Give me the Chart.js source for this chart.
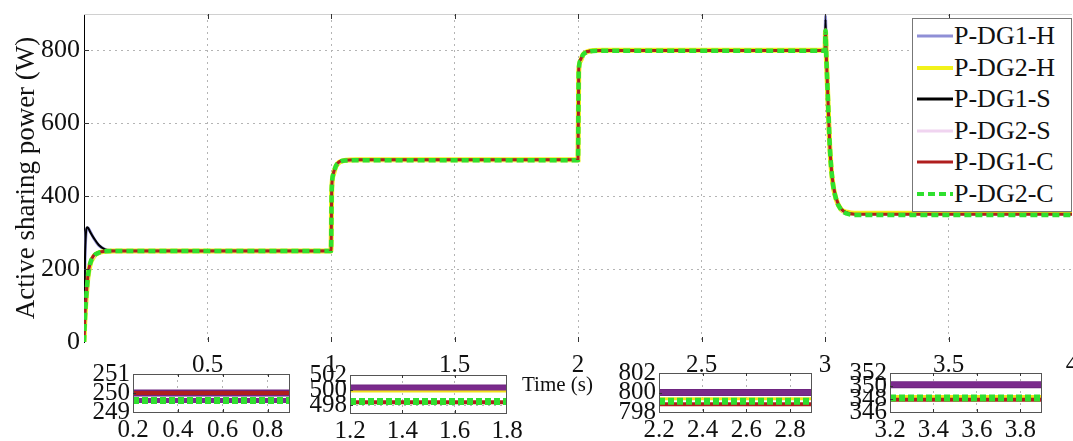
<!DOCTYPE html>
<html>
<head>
<meta charset="utf-8">
<script src="https://cdn.jsdelivr.net/npm/chart.js@4.4.1/dist/chart.umd.min.js"></script>
<style>
  body { margin: 0; background: #fff; width: 1073px; height: 441px; position: relative; overflow: hidden;
         font-family: "Liberation Serif", "Times New Roman", serif; color: #111; }
  canvas { position: absolute; }
  #legend { position: absolute; left: 912px; top: 18px; width: 160px; height: 194px; border: 1px solid #777;
            background: #fff; box-sizing: border-box; }
  .row { position: absolute; left: 0; height: 32px; display: flex; align-items: center; font-size: 26px; white-space: nowrap; }
  .row svg { margin-left: 4px; margin-right: 1px; }
  #xtitle { position: absolute; left: 522px; top: 372px; font-size: 21px; }
</style>
</head>
<body>
<canvas id="main" width="1073" height="441"></canvas>
<canvas id="in0"></canvas>
<canvas id="in1"></canvas>
<canvas id="in2"></canvas>
<canvas id="in3"></canvas>
<div id="legend"></div>
<div id="xtitle">Time (s)</div>

<script>
// main plot data (time in s, power in W)
const time = [0, 0.004, 0.008, 0.012, 0.016, 0.025, 0.04, 0.06, 0.085, 0.12,
              1.0, 1.003, 1.01, 1.02, 1.035, 1.06, 1.1,
              2.0, 2.003, 2.01, 2.02, 2.035, 2.06, 2.1,
              3.0, 3.002, 3.005, 3.01, 3.015, 3.02, 3.03, 3.045, 3.065, 3.09, 3.12, 4.0];

const pDG1H = [0, 225, 295, 312, 313, 303, 284, 265, 254, 250.2,
               250.1, 424, 464, 484, 495, 499.5, 500.3,
               500.3, 749, 775, 789, 796, 799.8, 800.1,
               800.1, 895, 805, 708, 616, 536, 450, 396, 366, 355, 351, 350.2];
const pDG2H = [0, 68, 112, 148, 178, 213, 235, 245, 248.8, 249.7,
               249.7, 418, 460, 482, 494, 498.5, 499.9,
               499.9, 744, 771, 788, 796, 799.6, 800.6,
               800.6, 852, 788, 698, 608, 528, 443, 392, 364, 356, 353, 352.5];
const pDG1S = [0, 230, 300, 315, 314, 302, 285, 266, 254, 250.2,
               250.1, 425, 465, 485, 496, 499.5, 500.4,
               500.4, 750, 776, 790, 797, 800, 800.2,
               800.2, 885, 800, 705, 615, 535, 450, 396, 366, 355, 351, 350.3];
const pDG2S = [0, 66, 110, 146, 176, 212, 234, 244, 248.6, 249.6,
               249.6, 419, 461, 482, 494, 498.3, 499.2,
               499.2, 745, 772, 788, 795, 799, 799.5,
               799.5, 850, 789, 699, 609, 529, 444, 392, 363, 353, 349.5, 349.2];
const pDG1C = [0, 72, 117, 152, 182, 217, 238, 246, 249.3, 250,
               250, 422, 463, 484, 495, 499, 500.3,
               500.3, 748, 774, 789, 796, 799.4, 800,
               800, 858, 792, 702, 612, 532, 447, 394, 365, 354, 350.5, 350.2];
const pDG2C = [0, 70, 115, 150, 180, 215, 236, 245, 248.8, 249.6,
               249.6, 420, 462, 483, 494, 498, 498.5,
               498.5, 745, 772, 788, 795, 798.6, 799.1,
               799.1, 855, 790, 700, 610, 530, 445, 392, 363, 352, 348.6, 348.2];

const seriesNames = ['P-DG1-H', 'P-DG2-H', 'P-DG1-S', 'P-DG2-S', 'P-DG1-C', 'P-DG2-C'];
const seriesValues = [pDG1H, pDG2H, pDG1S, pDG2S, pDG1C, pDG2C];
const xTicks = [0, 0.5, 1, 1.5, 2, 2.5, 3, 3.5, 4];
const yTicks = [0, 200, 400, 600, 800];

// zoomed insets: steady state levels per series (same order as seriesNames)
const insetTime = [[0.2, 0.9], [1.2, 1.8], [2.2, 2.9], [3.2, 3.9]];
const insetXTicks = [[0.2, 0.4, 0.6, 0.8], [1.2, 1.4, 1.6, 1.8], [2.2, 2.4, 2.6, 2.8], [3.2, 3.4, 3.6, 3.8]];
const insetYRange = [[249, 251], [497, 502], [798, 802], [346, 352]];
const insetYTicks = [[249, 250, 251], [498, 500, 502], [798, 800, 802], [346, 348, 350, 352]];
const insetLevels = [
  [250.0, 249.65, 250.05, 249.6, 250.0, 249.6],
  [500.3, 499.9, 500.4, 500.3, 498.4, 498.5],
  [800.0, 799.35, 800.05, 800.0, 798.8, 799.1],
  [350.2, 348.4, 350.1, 350.25, 347.9, 348.15]
];

// styles
const colors = ['#8f8fd6', '#f2f21a', '#000000', '#f0d4f0', '#b01e1e', '#2fe02f'];
const widths = [3, 5, 2, 2.5, 3, 4.5];
const dashes = [[], [], [], [], [], [7, 4]];
const insetColors = ['#6e2480', '#f2e21a', '#000000', '#7a2a8c', '#b01e1e', '#2fe02f'];
const insetWidths = [7, 3, 2, 5, 4, 7];
const insetDashes = [[], [], [2, 3], [], [], [6, 3]];

Chart.defaults.font.family = '"Liberation Serif", "Times New Roman", serif';
Chart.defaults.color = '#111';

const frame = {
  id: 'frame',
  afterDatasetsDraw(chart, args, opts) {
    const { ctx, chartArea: a, scales: { x, y } } = chart;
    ctx.save();
    ctx.lineWidth = 1;
    if (opts.box) {
      ctx.strokeStyle = opts.color;
      ctx.strokeRect(Math.round(a.left) + 0.5, Math.round(a.top) + 0.5, Math.round(a.right - a.left) - 1, Math.round(a.bottom - a.top));
    } else {
      ctx.strokeStyle = '#d0d0d0';
      ctx.beginPath();
      ctx.moveTo(a.left, Math.round(a.top) + 0.5);
      ctx.lineTo(a.right, Math.round(a.top) + 0.5);
      ctx.stroke();
    }
    // inward ticks, matlab style
    ctx.strokeStyle = '#333';
    ctx.beginPath();
    x.ticks.forEach(t => {
      if (t.value <= x.min || t.value >= x.max) return;
      const px = Math.round(x.getPixelForValue(t.value)) + 0.5;
      ctx.moveTo(px, a.top); ctx.lineTo(px, a.top + opts.len);
      ctx.moveTo(px, a.bottom); ctx.lineTo(px, a.bottom - opts.len);
    });
    y.ticks.forEach(t => {
      if (t.value <= y.min || t.value >= y.max) return;
      const py = Math.round(y.getPixelForValue(t.value)) + 0.5;
      ctx.moveTo(a.left, py); ctx.lineTo(a.left + opts.len, py);
    });
    ctx.stroke();
    ctx.restore();
  }
};

const gridColor = (min, max) => c =>
  (c.tick && (c.tick.value <= min || c.tick.value >= max)) ? 'rgba(0,0,0,0)' : '#b4b4b4';

new Chart(document.getElementById('main'), {
  type: 'line',
  data: {
    datasets: seriesNames.map((name, i) => ({
      label: name,
      data: time.map((t, k) => ({ x: t, y: seriesValues[i][k] })),
      borderColor: colors[i],
      borderWidth: widths[i],
      borderDash: dashes[i],
      pointRadius: 0,
      cubicInterpolationMode: 'monotone',
      order: 5 - i
    }))
  },
  options: {
    responsive: false,
    animation: false,
    layout: { padding: { top: 14, right: 1, left: 0, bottom: 0 } },
    plugins: { legend: { display: false }, tooltip: { enabled: false }, frame: { box: false, len: 5 } },
    scales: {
      x: {
        type: 'linear', min: 0, max: 4,
        afterBuildTicks: s => { s.ticks = xTicks.map(v => ({ value: v })); },
        afterFit: s => { s.height = 99; s.paddingLeft = 0; s.paddingRight = 0; },
        border: { display: false, dash: [2, 4] },
        grid: { drawTicks: false, color: gridColor(0, 4) },
        ticks: { padding: 8, font: { size: 25 }, maxRotation: 0, autoSkip: false,
                 callback: v => v === 0 ? '' : String(v) }
      },
      y: {
        min: 0, max: 900,
        afterBuildTicks: s => { s.ticks = yTicks.map(v => ({ value: v })); },
        afterFit: s => { s.width = 84; s.paddingTop = 0; s.paddingBottom = 0; },
        border: { color: '#000', width: 1, dash: [2, 4] },
        grid: { drawTicks: false, color: gridColor(0, 900) },
        ticks: { padding: 4, font: { size: 26 }, autoSkip: false },
        title: { display: true, text: 'Active sharing power (W)', font: { size: 27 }, padding: { top: 11, bottom: 0 } }
      }
    }
  },
  plugins: [frame]
});

// inset plot areas on the page: left, right, top, bottom
const insetBoxes = [[133, 290, 374, 412], [350, 507, 375, 413], [659, 812, 373, 412], [890, 1042, 373, 412]];

insetBoxes.forEach(([l, r, t, b], n) => {
  const cv = document.getElementById('in' + n);
  const padL = 48, padR = 18, padT = 14;
  cv.width = r - l + padL + padR;
  cv.height = 441 - (t - padT);
  cv.style.left = (l - padL) + 'px';
  cv.style.top = (t - padT) + 'px';
  const [x0, x1] = insetTime[n];
  const [y0, y1] = insetYRange[n];
  new Chart(cv, {
    type: 'line',
    data: {
      datasets: seriesNames.map((name, i) => ({
        label: name,
        data: insetTime[n].map(tv => ({ x: tv, y: insetLevels[n][i] })),
        borderColor: insetColors[i],
        borderWidth: insetWidths[i],
        borderDash: insetDashes[i],
        pointRadius: 0,
        order: 5 - i
      }))
    },
    options: {
      responsive: false,
      animation: false,
      layout: { padding: { top: padT, right: padR, left: 0, bottom: 0 } },
      plugins: { legend: { display: false }, tooltip: { enabled: false }, frame: { box: true, color: '#555', len: 3 } },
      scales: {
        x: {
          type: 'linear', min: x0, max: x1,
          afterBuildTicks: s => { s.ticks = insetXTicks[n].map(v => ({ value: v })); },
          afterFit: s => { s.height = 441 - b; s.paddingLeft = 0; s.paddingRight = 0; },
          border: { display: false, dash: [2, 4] },
          grid: { drawTicks: false, color: gridColor(x0, x1) },
          ticks: { padding: 3, font: { size: 25 }, maxRotation: 0, autoSkip: false }
        },
        y: {
          min: y0, max: y1,
          afterBuildTicks: s => { s.ticks = insetYTicks[n].map(v => ({ value: v })); },
          afterFit: s => { s.width = padL; s.paddingTop = 0; s.paddingBottom = 0; },
          border: { display: false, dash: [2, 4] },
          grid: { drawTicks: false, color: gridColor(y0, y1) },
          ticks: { padding: 3, font: { size: 25 }, autoSkip: false }
        }
      }
    },
    plugins: [frame]
  });
});

// legend box, built from the series
const legend = document.getElementById('legend');
seriesNames.forEach((name, i) => {
  const row = document.createElement('div');
  row.className = 'row';
  row.style.top = (1 + i * 31.6) + 'px';
  const dash = dashes[i].length ? ` stroke-dasharray="${dashes[i].join(',')}"` : '';
  row.innerHTML = `<svg width="36" height="8"><line x1="0" y1="4" x2="36" y2="4" stroke="${colors[i]}" stroke-width="${Math.min(Math.max(widths[i], 3), 4)}"${dash}/></svg><span>${name}</span>`;
  legend.appendChild(row);
});
</script>
</body>
</html>
